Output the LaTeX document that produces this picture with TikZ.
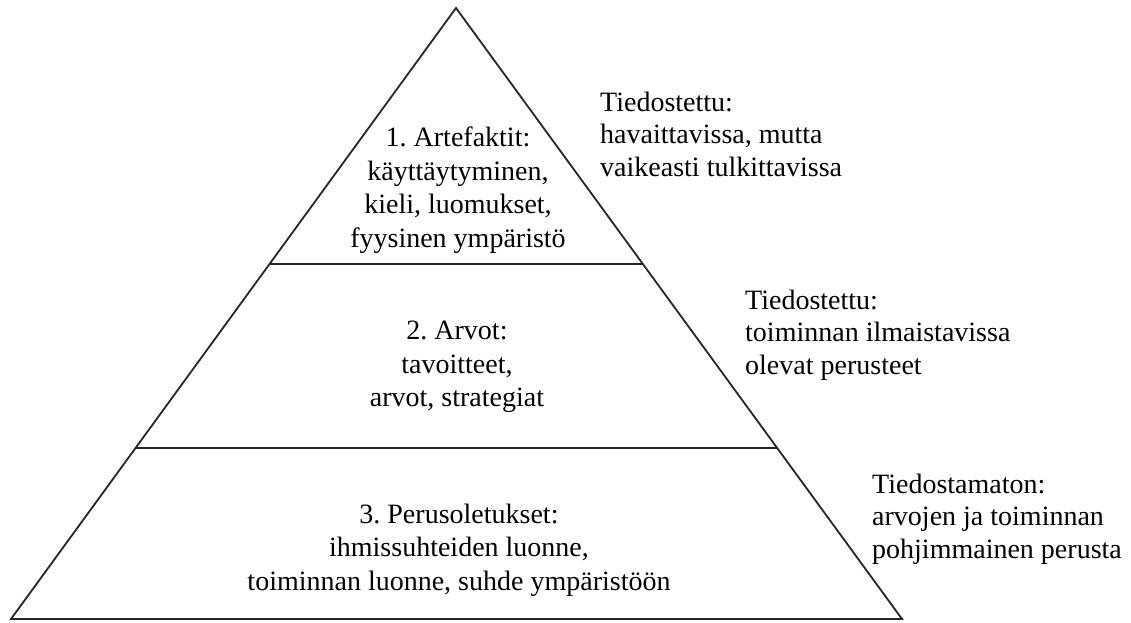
\documentclass[tikz,border=0pt]{standalone}
\usepackage{fontspec}
\setmainfont{Liberation Serif}
\frenchspacing
\begin{document}
\begin{tikzpicture}[x=1pt,y=-1pt,
  edge/.style={line width=1.8pt,draw=black!85},
  level/.style={align=center,font=\fontsize{28}{33.5}\selectfont,inner sep=0pt},
  note/.style={align=left,anchor=west,font=\fontsize{28}{32.5}\selectfont,inner sep=0pt}]
  \useasboundingbox (0,0) rectangle (1131,622);
  % pyramid corners and layer boundaries
  \coordinate (apex) at (456,8);
  \coordinate (bl) at (11,619);
  \coordinate (br) at (902,619);
  \coordinate (l1) at (270,264);
  \coordinate (r1) at (643,264);
  \coordinate (l2) at (136,448);
  \coordinate (r2) at (777,448);
  \draw[edge,line join=miter] (apex) -- (br) -- (bl) -- cycle;
  \draw[edge] (l1) -- (r1);
  \draw[edge] (l2) -- (r2);
  % layer contents
  \node[level] (artefaktit) at (458,190) {1. Artefaktit:\\käyttäytyminen,\\kieli, luomukset,\\fyysinen ympäristö};
  \node[level] (arvot) at (457,367) {2. Arvot:\\tavoitteet,\\arvot, strategiat};
  \node[level] (perus) at (459,550) {3. Perusoletukset:\\ihmissuhteiden luonne,\\toiminnan luonne, suhde ympäristöön};
  % side notes
  \node[note] (n1) at (600,134) {Tiedostettu:\\havaittavissa, mutta\\vaikeasti tulkittavissa};
  \node[note] (n2) at (745,335) {Tiedostettu:\\toiminnan ilmaistavissa\\olevat perusteet};
  \node[note] (n3) at (872,519) {Tiedostamaton:\\arvojen ja toiminnan\\pohjimmainen perusta};
\end{tikzpicture}
\end{document}
